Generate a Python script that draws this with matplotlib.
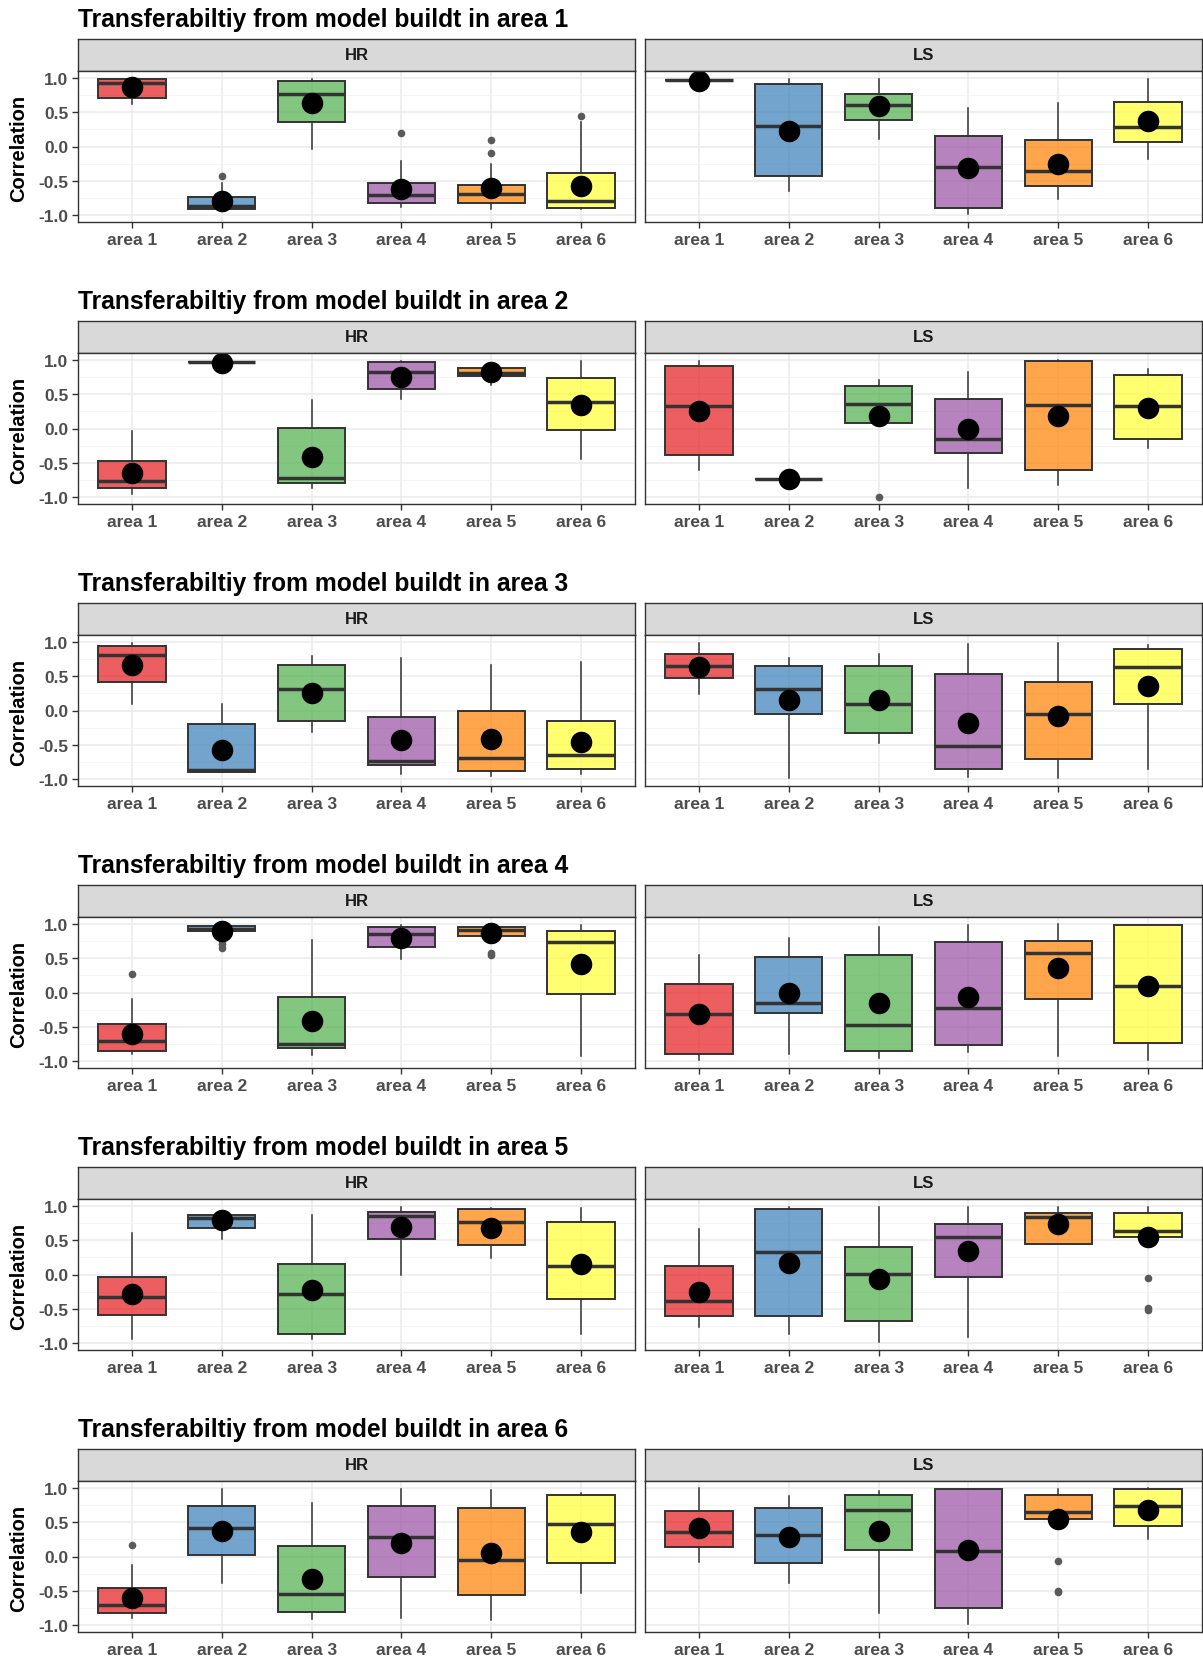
import matplotlib
matplotlib.use("Agg")
import matplotlib.pyplot as plt

plt.rcParams['font.family'] = ['Liberation Sans', 'DejaVu Sans']

areas = ["area 1", "area 2", "area 3", "area 4", "area 5", "area 6"]
facets = ["HR", "LS"]
area_colors = ["#E41A1C", "#377EB8", "#4DAF4A", "#984EA3", "#FF7F00", "#FFFF33"]

# box statistics, one row per model area, one column per target area
hr_whislo = [[0.62, -0.93, -0.04, -0.88, -0.91, -0.91],
             [-0.95, 0.96, -0.86, 0.43, 0.63, -0.45],
             [0.09, -0.90, -0.32, -0.93, -0.95, -0.93],
             [-0.89, 0.89, -0.91, 0.49, 0.81, -0.92],
             [-0.94, 0.51, -0.94, -0.01, 0.24, -0.86],
             [-0.90, -0.38, -0.91, -0.90, -0.92, -0.53]]
hr_q1 = [[0.71, -0.91, 0.35, -0.82, -0.82, -0.89],
         [-0.87, 0.97, -0.80, 0.57, 0.76, -0.02],
         [0.41, -0.89, -0.16, -0.80, -0.88, -0.85],
         [-0.85, 0.89, -0.81, 0.66, 0.82, -0.02],
         [-0.59, 0.68, -0.87, 0.52, 0.43, -0.35],
         [-0.82, 0.02, -0.81, -0.30, -0.56, -0.10]]
hr_med = [[0.92, -0.86, 0.76, -0.70, -0.69, -0.80],
          [-0.76, 0.97, -0.72, 0.82, 0.81, 0.38],
          [0.81, -0.86, 0.31, -0.74, -0.69, -0.65],
          [-0.70, 0.92, -0.75, 0.85, 0.91, 0.73],
          [-0.33, 0.83, -0.29, 0.85, 0.76, 0.12],
          [-0.71, 0.41, -0.54, 0.29, -0.05, 0.48]]
hr_q3 = [[0.99, -0.73, 0.95, -0.53, -0.56, -0.38],
         [-0.47, 0.97, 0.01, 0.97, 0.88, 0.73],
         [0.94, -0.20, 0.67, -0.10, 0.00, -0.15],
         [-0.46, 0.97, -0.07, 0.96, 0.96, 0.90],
         [-0.04, 0.87, 0.16, 0.91, 0.96, 0.77],
         [-0.46, 0.74, 0.15, 0.74, 0.71, 0.89]]
hr_whishi = [[1.00, -0.53, 0.99, -0.21, -0.25, 0.36],
             [-0.04, 0.98, 0.42, 0.99, 0.90, 0.99],
             [0.99, 0.09, 0.79, 0.76, 0.67, 0.70],
             [-0.10, 0.99, 0.77, 0.99, 0.99, 0.99],
             [0.61, 0.90, 0.87, 0.99, 0.97, 0.97],
             [-0.12, 0.99, 0.78, 0.99, 0.97, 0.92]]
hr_mean = [[0.86, -0.79, 0.63, -0.62, -0.61, -0.57],
           [-0.65, 0.96, -0.42, 0.75, 0.82, 0.34],
           [0.67, -0.57, 0.25, -0.43, -0.42, -0.46],
           [-0.61, 0.89, -0.41, 0.79, 0.86, 0.41],
           [-0.29, 0.79, -0.23, 0.69, 0.68, 0.15],
           [-0.60, 0.37, -0.33, 0.19, 0.05, 0.35]]
hr_fliers = [[[], [-0.43], [], [0.20], [0.10, -0.10], [0.44]],
             [[], [], [], [], [], []],
             [[], [], [], [], [], []],
             [[0.27], [0.75, 0.70, 0.65], [], [], [0.58, 0.55], []],
             [[], [], [], [], [], []],
             [[0.17], [], [], [], [], []]]

ls_whislo = [[0.97, -0.65, 0.11, -0.99, -0.76, -0.18],
             [-0.61, -0.73, 0.08, -0.87, -0.83, -0.28],
             [0.24, -0.99, -0.47, -0.97, -0.98, -0.85],
             [-0.99, -0.90, -0.96, -0.86, -0.93, -0.98],
             [-0.77, -0.86, -0.98, -0.91, 0.44, 0.54],
             [-0.08, -0.38, -0.82, -0.99, 0.54, 0.25]]
ls_q1 = [[0.97, -0.43, 0.38, -0.89, -0.57, 0.06],
         [-0.38, -0.73, 0.08, -0.36, -0.60, -0.16],
         [0.48, -0.05, -0.33, -0.85, -0.70, 0.10],
         [-0.89, -0.30, -0.85, -0.76, -0.09, -0.74],
         [-0.60, -0.60, -0.68, -0.04, 0.44, 0.54],
         [0.14, -0.10, 0.10, -0.75, 0.54, 0.44]]
ls_med = [[0.97, 0.30, 0.60, -0.30, -0.36, 0.29],
          [0.33, -0.73, 0.35, -0.15, 0.34, 0.33],
          [0.65, 0.32, 0.10, -0.51, -0.05, 0.64],
          [-0.31, -0.16, -0.48, -0.23, 0.58, 0.09],
          [-0.38, 0.33, 0.01, 0.55, 0.84, 0.64],
          [0.35, 0.32, 0.68, 0.08, 0.65, 0.73]]
ls_q3 = [[0.97, 0.91, 0.77, 0.15, 0.10, 0.65],
         [0.91, -0.73, 0.62, 0.43, 0.98, 0.78],
         [0.83, 0.65, 0.65, 0.53, 0.41, 0.90],
         [0.13, 0.52, 0.55, 0.74, 0.75, 0.98],
         [0.12, 0.96, 0.40, 0.73, 0.89, 0.89],
         [0.67, 0.70, 0.90, 0.99, 0.89, 0.98]]
ls_whishi = [[0.97, 0.99, 0.99, 0.56, 0.64, 0.99],
             [0.99, -0.73, 0.71, 0.83, 1.00, 0.86],
             [0.99, 0.77, 0.83, 0.97, 0.99, 0.96],
             [0.55, 0.80, 0.96, 0.98, 1.00, 0.99],
             [0.66, 0.98, 0.98, 0.99, 0.99, 0.99],
             [1.00, 0.88, 0.96, 0.99, 0.99, 1.00]]
ls_mean = [[0.95, 0.22, 0.59, -0.31, -0.26, 0.37],
           [0.25, -0.73, 0.18, 0.00, 0.18, 0.30],
           [0.64, 0.16, 0.15, -0.18, -0.08, 0.35],
           [-0.31, 0.00, -0.16, -0.06, 0.35, 0.10],
           [-0.26, 0.17, -0.06, 0.34, 0.73, 0.55],
           [0.41, 0.29, 0.37, 0.10, 0.55, 0.68]]
ls_fliers = [[[], [], [], [], [], []],
             [[], [], [-1.0], [], [], []],
             [[], [], [], [], [], []],
             [[], [], [], [], [], []],
             [[], [], [], [], [], [-0.05, -0.49, -0.51]],
             [[], [], [], [], [-0.07, -0.50, -0.51], []]]

stats_by_facet = {
    "HR": (hr_whislo, hr_q1, hr_med, hr_q3, hr_whishi, hr_mean, hr_fliers),
    "LS": (ls_whislo, ls_q1, ls_med, ls_q3, ls_whishi, ls_mean, ls_fliers),
}

W, H = 1203, 1658
fig = plt.figure(figsize=(W / 100, H / 100), dpi=100)
fig.patch.set_facecolor("white")


def box(x0, y0, x1, y1):
    # pixel box (top-left origin) -> figure fraction rect
    return [x0 / W, 1 - y1 / H, (x1 - x0) / W, (y1 - y0) / H]


panel_x = [(78, 635), (645, 1202)]
row_step = 282
dark = "#333333"

for r in range(6):
    off = r * row_step
    fig.text(78 / W, 1 - (20 + off) / H,
             "Transferabiltiy from model buildt in area %d" % (r + 1),
             fontsize=17.7, fontweight="bold", ha="left", va="center", color="black")
    fig.text(19 / W, 1 - (148 + off) / H, "Correlation", rotation=90,
             fontsize=14.5, fontweight="bold", ha="center", va="center", color="black")

    for c, facet in enumerate(facets):
        x0, x1 = panel_x[c]
        whislo, q1, med, q3, whishi, mean, fliers = stats_by_facet[facet]

        # facet strip
        sax = fig.add_axes(box(x0, 40 + off, x1, 72 + off))
        sax.set_facecolor("#D9D9D9")
        sax.set_xticks([])
        sax.set_yticks([])
        for sp in sax.spines.values():
            sp.set_color(dark)
            sp.set_linewidth(1.0)
        sax.text(0.5, 0.5, facet, transform=sax.transAxes, ha="center", va="center",
                 fontsize=12, fontweight="bold", color="#1A1A1A")

        ax = fig.add_axes(box(x0, 72 + off, x1, 223 + off))
        stats = []
        for i in range(6):
            stats.append({
                "whislo": whislo[r][i], "q1": q1[r][i], "med": med[r][i],
                "q3": q3[r][i], "whishi": whishi[r][i], "mean": mean[r][i],
                "fliers": fliers[r][i],
            })
        bp = ax.bxp(stats, positions=range(1, 7), widths=0.75, patch_artist=True,
                    showcaps=False, showmeans=True, showfliers=True,
                    boxprops=dict(edgecolor=dark, linewidth=1.4),
                    medianprops=dict(color=dark, linewidth=2.5, solid_capstyle="butt"),
                    whiskerprops=dict(color=dark, linewidth=1.1),
                    flierprops=dict(marker="o", markerfacecolor="#5A5A5A",
                                    markeredgecolor="none", markersize=5.5),
                    meanprops=dict(marker="o", markerfacecolor="black",
                                   markeredgecolor="black", markersize=14.5))
        for patch, col in zip(bp["boxes"], area_colors):
            patch.set_facecolor(matplotlib.colors.to_rgba(col, 0.7))

        ax.set_xlim(0.4, 6.6)
        ax.set_ylim(-1.1, 1.1)
        ax.set_yticks([-1.0, -0.5, 0.0, 0.5, 1.0])
        ax.set_yticks([-0.75, -0.25, 0.25, 0.75], minor=True)
        ax.set_xticks(range(1, 7))
        ax.set_xticklabels(areas, fontsize=12.5, fontweight="bold", color="#4D4D4D")
        ax.grid(True, which="major", color="#EBEBEB", linewidth=1.1)
        ax.grid(True, which="minor", axis="y", color="#F2F2F2", linewidth=0.6)
        ax.set_axisbelow(True)
        ax.tick_params(axis="both", which="major", color=dark, length=4, width=1.0,
                       pad=3)
        ax.tick_params(axis="y", which="minor", length=0)
        if c == 0:
            ax.set_yticklabels(["-1.0", "-0.5", "0.0", "0.5", "1.0"], fontsize=12.5,
                               fontweight="bold", color="#4D4D4D")
        else:
            ax.tick_params(axis="y", which="major", length=0, labelleft=False)
        for sp in ax.spines.values():
            sp.set_color(dark)
            sp.set_linewidth(1.0)

fig.savefig("out.png", dpi=100, facecolor="white")
